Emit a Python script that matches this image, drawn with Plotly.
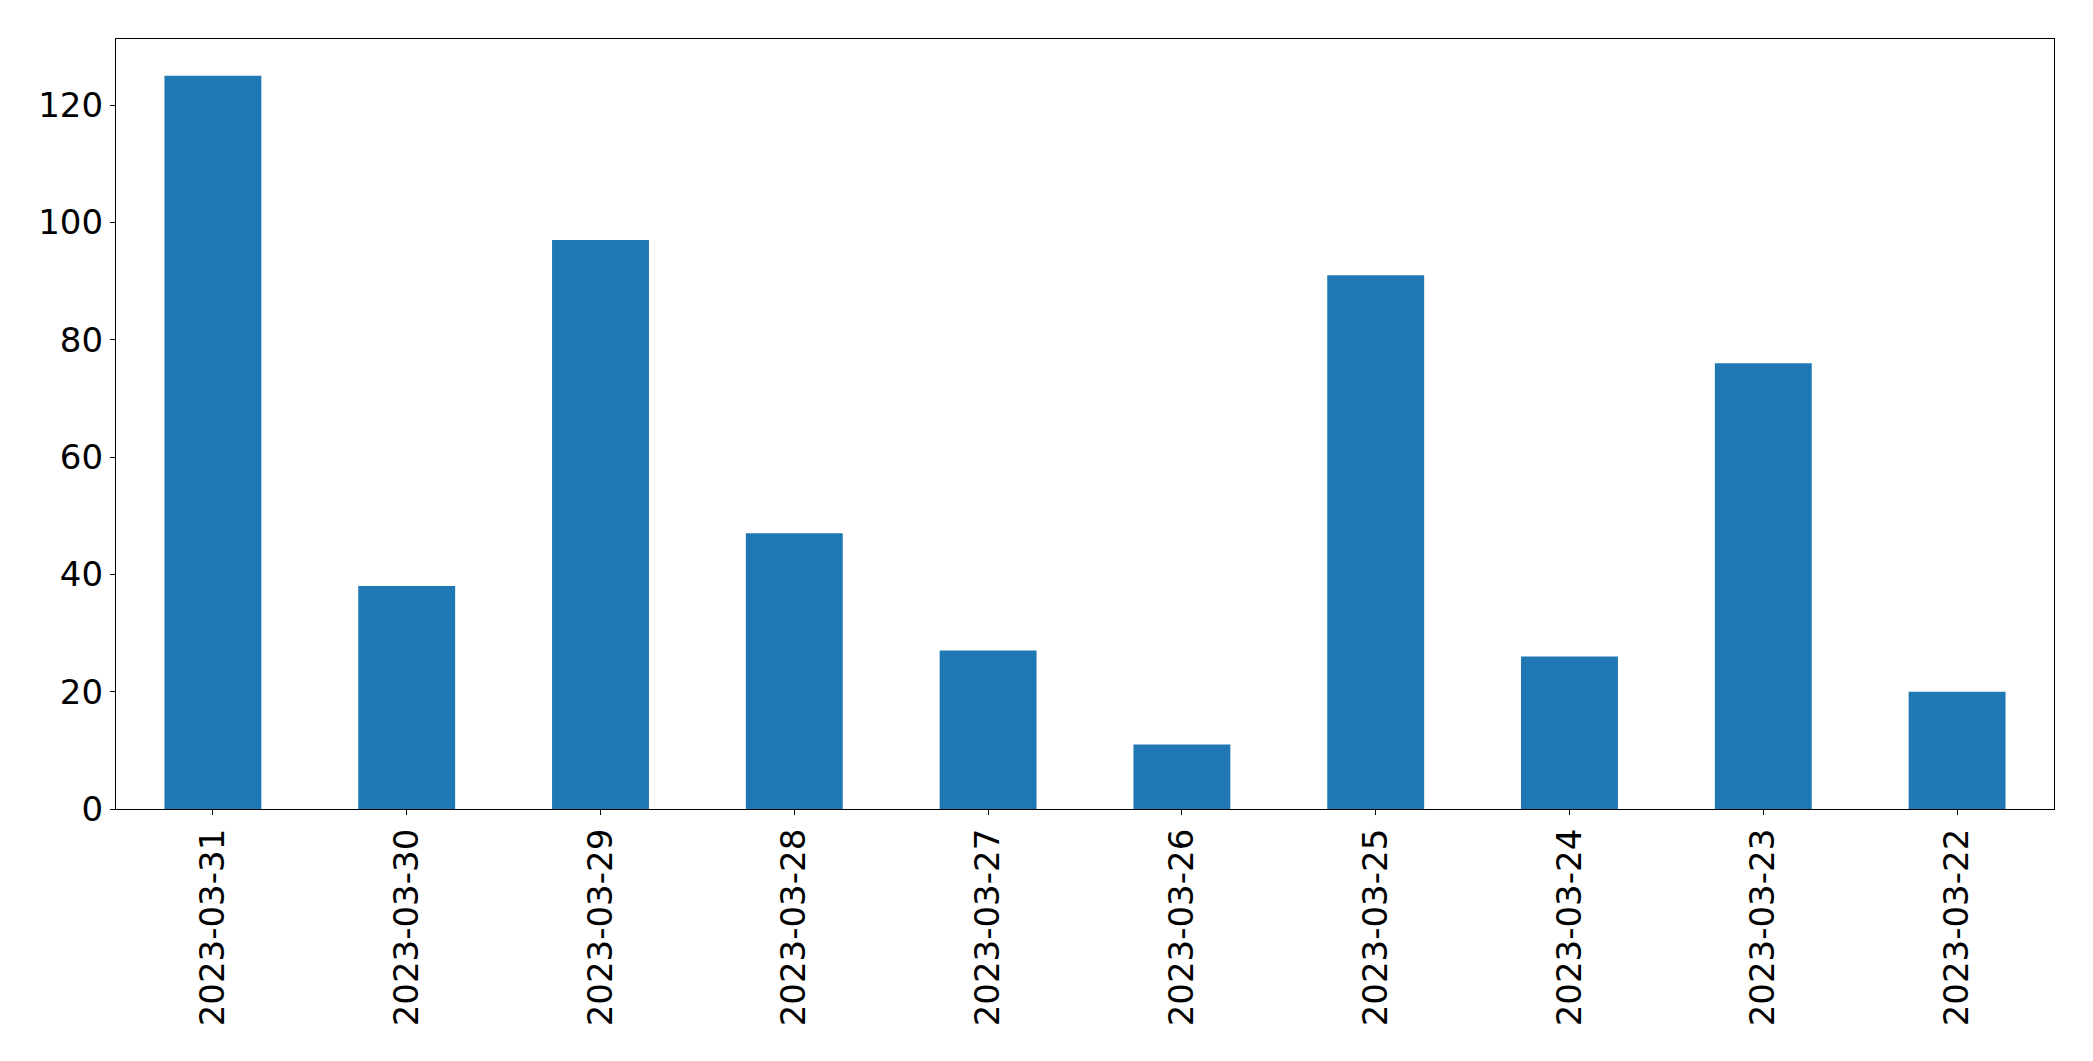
import plotly.graph_objects as go

dates = ["2023-03-31", "2023-03-30", "2023-03-29", "2023-03-28", "2023-03-27",
         "2023-03-26", "2023-03-25", "2023-03-24", "2023-03-23", "2023-03-22"]
counts = [125, 38, 97, 47, 27, 11, 91, 26, 76, 20]

fig = go.Figure(go.Bar(x=dates, y=counts, marker=dict(color="#1f77b4", line=dict(width=0)), width=0.5))

fig.update_layout(
    width=2093, height=1061,
    margin=dict(l=108, r=47, t=31, b=260),
    plot_bgcolor="white", paper_bgcolor="white",
    font=dict(family="DejaVu Sans", size=34, color="black"),
    showlegend=False,
)
fig.update_xaxes(
    type="category", range=[-0.5, 9.5], tickangle=-90,
    showline=True, linecolor="black", linewidth=1.3, mirror=True,
    ticks="outside", ticklen=5, tickwidth=1.3, tickcolor="black",
    showgrid=False, zeroline=False,
)
fig.update_yaxes(
    range=[0, 131.25], tickvals=[0, 20, 40, 60, 80, 100, 120],
    showline=True, linecolor="black", linewidth=1.3, mirror=True,
    ticks="outside", ticklen=5, tickwidth=1.3, tickcolor="black",
    showgrid=False, zeroline=False,
)

fig.write_html("out.html")
